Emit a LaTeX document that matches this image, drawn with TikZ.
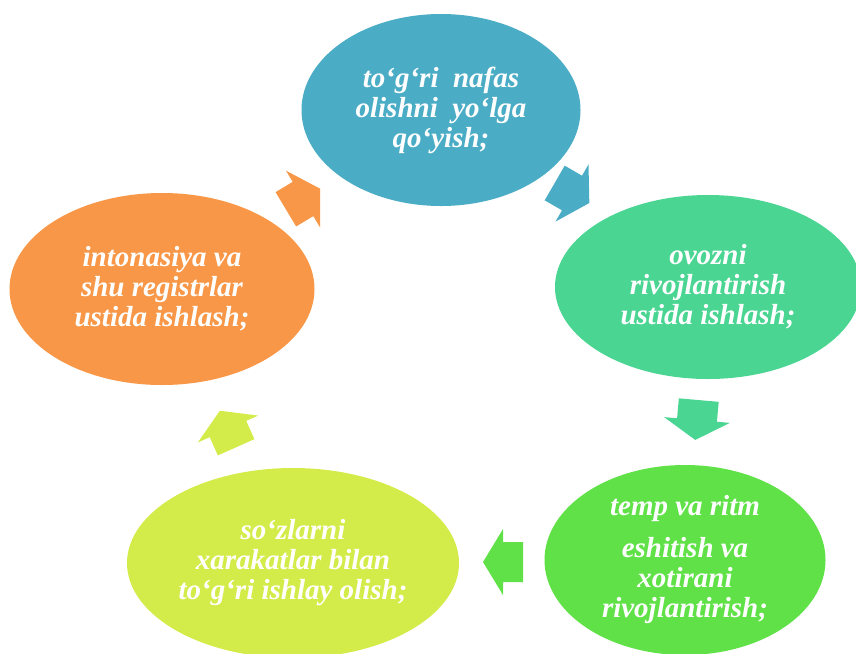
\documentclass[tikz,border=0pt]{standalone}
\usepackage{fontspec}
\setmainfont{Liberation Serif}
\usetikzlibrary{shapes.geometric}
\definecolor{breathc}{HTML}{4BACC6}
\definecolor{voicec}{HTML}{4AD593}
\definecolor{tempoc}{HTML}{60E148}
\definecolor{wordsc}{HTML}{D4EC4A}
\definecolor{tonec}{HTML}{F79747}

\tikzset{
 bubble/.style={ellipse, inner sep=0pt, draw=none},
 caption/.style={align=center, text=white, font=\fontsize{5.8mm}{6mm}\selectfont\bfseries\itshape},
 cyclearrow/.pic={\path[pic actions] (-20,-20) -- (0,-20) -- (0,-33) -- (20,0) -- (0,33) -- (0,20) -- (-20,20) -- cycle;}
}

\begin{document}
\begin{tikzpicture}[x=0.2mm, y=-0.2mm]
\useasboundingbox (0,0) rectangle (856,653);

\node[bubble, fill=breathc, minimum width=55.8mm, minimum height=38.4mm] (breath) at (441,110) {};
\node[bubble, fill=voicec, minimum width=61.2mm, minimum height=36.8mm] (voice) at (708,287) {};
\node[bubble, fill=tempoc, minimum width=56.2mm, minimum height=38mm] (tempo) at (685,560) {};
\node[bubble, fill=wordsc, minimum width=66.4mm, minimum height=38mm] (words) at (293,563) {};
\node[bubble, fill=tonec, minimum width=61mm, minimum height=38.4mm] (tone) at (162,289) {};

\node[caption] (breathtxt) at (breath) {to‘g‘ri~ nafas\\olishni~ yo‘lga\\qo‘yish;};
\node[caption] (voicetxt) at (voice) {ovozni\\rivojlantirish\\ustida ishlash;};
\node[caption] (tempotxt) at (tempo) {temp va ritm\\[2.4mm]eshitish va\\xotirani\\rivojlantirish;};
\node[caption] (wordstxt) at (words) {so‘zlarni\\xarakatlar bilan\\to‘g‘ri ishlay olish;};
\node[caption] (tonetxt) at (tone) {intonasiya va\\shu registrlar\\ustida ishlash;};

\pic[fill=breathc, rotate=-30] at (572,193) {cyclearrow};
\pic[fill=voicec, rotate=-95] at (697,420) {cyclearrow};
\pic[fill=tempoc, rotate=180] at (503,562) {cyclearrow};
\pic[fill=wordsc, rotate=114] at (228,429) {cyclearrow};
\pic[fill=tonec, rotate=31] at (303,199) {cyclearrow};
\end{tikzpicture}
\end{document}
